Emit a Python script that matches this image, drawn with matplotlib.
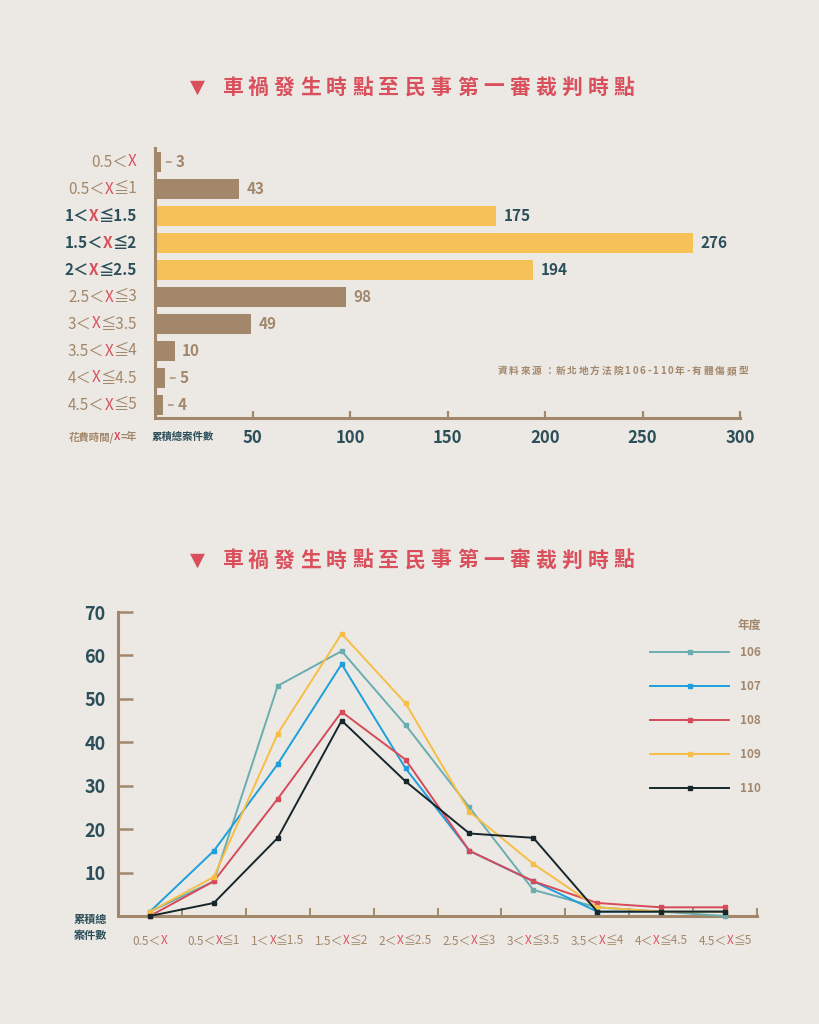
import matplotlib
matplotlib.use("Agg")
import matplotlib.pyplot as plt
from matplotlib.offsetbox import TextArea, HPacker, AnnotationBbox
from matplotlib.lines import Line2D

# ---------------- data ----------------
categories = ["0.5＜X", "0.5＜X≦1", "1＜X≦1.5", "1.5＜X≦2", "2＜X≦2.5",
              "2.5＜X≦3", "3＜X≦3.5", "3.5＜X≦4", "4＜X≦4.5", "4.5＜X≦5"]
totals = [3, 43, 175, 276, 194, 98, 49, 10, 5, 4]
highlight = [False, False, True, True, True, False, False, False, False, False]
bar_ticks = [50, 100, 150, 200, 250, 300]

years = ["106", "107", "108", "109", "110"]
y106 = [1, 8, 53, 61, 44, 25, 6, 2, 1, 0]
y107 = [1, 15, 35, 58, 34, 15, 8, 1, 1, 1]
y108 = [0, 8, 27, 47, 36, 15, 8, 3, 2, 2]
y109 = [1, 9, 42, 65, 49, 24, 12, 2, 1, 1]
y110 = [0, 3, 18, 45, 31, 19, 18, 1, 1, 1]
line_ticks = [10, 20, 30, 40, 50, 60, 70]

title = "車禍發生時點至民事第一審裁判時點"
source = "資料來源：新北地方法院106-110年-有體傷類型"

# ---------------- style ----------------
BG = "#ECE9E5"
BROWN = "#A3876A"
GOLD = "#F6C156"
TEAL = "#2C4F59"
RED = "#D9505C"
FONT = ["Noto Sans CJK TC", "DejaVu Sans"]
series_colors = ["#6AADB0", "#1D9FDB", "#D64B5A", "#F6BE45", "#17262B"]

plt.rcParams["font.family"] = FONT

W, H = 819, 1024
fig = plt.figure(figsize=(W / 100, H / 100), dpi=100, facecolor=BG)


def fx(px):
    return px / W


def fy(py):
    return 1 - py / H


def spaced_title(y_px):
    fig.text(fx(197), fy(y_px), "▼", color=RED, fontsize=14, ha="center",
             va="center", family=["DejaVu Sans"])
    step = (624 - 232) / (len(title) - 1)
    for i, ch in enumerate(title):
        fig.text(fx(232 + step * i), fy(y_px), ch, color=RED, fontsize=15,
                 fontweight="bold", ha="center", va="center")


def multicolor(ax, text, base, xy, xycoords, xybox, align, size, weight):
    parts = []
    pieces = text.split("X")
    for k, p in enumerate(pieces):
        if p:
            parts.append((p, base))
        if k < len(pieces) - 1:
            parts.append(("X", RED))
    children = [TextArea(t, textprops=dict(color=c, fontsize=size,
                                           fontweight=weight, family=FONT))
                for t, c in parts]
    box = HPacker(children=children, align="baseline", pad=0, sep=0)
    ab = AnnotationBbox(box, xy, xycoords=xycoords, xybox=xybox,
                        boxcoords="offset points", box_alignment=align,
                        frameon=False, pad=0, annotation_clip=False)
    ax.add_artist(ab)


# ================= top: bar chart =================
ax1 = fig.add_axes([fx(155), fy(418), fx(740) - fx(155), (418 - 148) / H])
ax1.set_facecolor(BG)
idx = list(range(len(categories)))
colors = [GOLD if h else BROWN for h in highlight]
ax1.barh(idx, totals, height=0.72, color=colors, zorder=2)
ax1.set_xlim(0, 300)
ax1.set_ylim((418 - 162) / 27, (148 - 162) / 27)
for s in ["top", "right"]:
    ax1.spines[s].set_visible(False)
for s in ["left", "bottom"]:
    ax1.spines[s].set_color(BROWN)
    ax1.spines[s].set_linewidth(2.2)
ax1.set_yticks([])
ax1.set_xticks(bar_ticks)
ax1.set_xticklabels([str(t) for t in bar_ticks])
ax1.tick_params(axis="x", direction="in", length=5, width=1.6, color=BROWN,
                labelcolor=TEAL, labelsize=12, pad=8)
for lab in ax1.get_xticklabels():
    lab.set_fontweight("bold")

for i, (cat, v, h) in enumerate(zip(categories, totals, highlight)):
    base = TEAL if h else BROWN
    multicolor(ax1, cat, base, (0, i), ax1.get_yaxis_transform(), (-13, 0),
               (1, 0.5), 11, "bold" if h else "normal")
    vcol = TEAL if h else BROWN
    if v < 8:
        ax1.annotate(str(v), xy=(v, i), xytext=(11, 0),
                     textcoords="offset points", va="center", ha="left",
                     color=vcol, fontsize=11, fontweight="bold",
                     arrowprops=dict(arrowstyle="-", color=BROWN, lw=1,
                                     shrinkA=1.5, shrinkB=4))
    else:
        ax1.annotate(str(v), xy=(v, i), xytext=(5.5, 0),
                     textcoords="offset points", va="center", ha="left",
                     color=vcol, fontsize=11, fontweight="bold")

# bottom-left captions of top chart
multicolor(ax1, "花費時間/X=年", BROWN, (fx(137), fy(437)), "figure fraction",
           (0, 0), (1, 0.5), 7.5, "bold")
fig.text(fx(152), fy(437), "累積總案件數", color=TEAL, fontsize=7.5,
         fontweight="bold", ha="left", va="center")

# source note with letter spacing
renderer = fig.canvas.get_renderer()
widths = []
for ch in source:
    t = fig.text(0, 0, ch, fontsize=7, fontweight="bold")
    widths.append(t.get_window_extent(renderer).width)
    t.remove()
track = 1.8
total_w = sum(widths) + track * (len(source) - 1)
x = 748 - total_w
for ch, w in zip(source, widths):
    fig.text(fx(x), fy(371), ch, fontsize=7, fontweight="bold", color=BROWN,
             ha="left", va="center")
    x += w + track

spaced_title(87)

# ================= bottom: line chart =================
ax2 = fig.add_axes([fx(118), fy(916), fx(757) - fx(118), (916 - 612) / H])
ax2.set_facecolor(BG)
xs = list(range(len(categories)))
for name, ys, c in zip(years, [y106, y107, y108, y109, y110], series_colors):
    ax2.plot(xs, ys, color=c, lw=1.4, marker="s", markersize=3.2,
             label=name, clip_on=False, zorder=3)
ax2.set_xlim(-0.5, 9.5)
ax2.set_ylim(0, 70)
for s in ["top", "right"]:
    ax2.spines[s].set_visible(False)
for s in ["left", "bottom"]:
    ax2.spines[s].set_color(BROWN)
    ax2.spines[s].set_linewidth(2.2)
ax2.set_yticks(line_ticks)
ax2.set_yticklabels([str(t) for t in line_ticks])
ax2.tick_params(axis="y", direction="in", length=11, width=1.8, color=BROWN,
                labelcolor=TEAL, labelsize=13, pad=9)
for lab in ax2.get_yticklabels():
    lab.set_fontweight("bold")
ax2.set_xticks([i + 0.5 for i in range(len(categories))])
ax2.set_xticklabels([])
ax2.tick_params(axis="x", direction="in", length=6, width=1.4, color=BROWN)
for i, cat in enumerate(categories):
    multicolor(ax2, cat, BROWN, (i, 0), ax2.get_xaxis_transform(), (0, -18),
               (0.5, 0.5), 8.5, "normal")

fig.text(fx(90), fy(927.5), "累積總\n案件數", color=TEAL, fontsize=8,
         fontweight="bold", ha="center", va="center", linespacing=1.35)

handles = [Line2D([], [], color=c, lw=1.4, marker="s", markersize=3.2)
           for c in series_colors]
leg = ax2.legend(handles, years, loc="upper left",
                 bbox_to_anchor=(fx(650), fy(619)),
                 bbox_transform=fig.transFigure, frameon=False,
                 title="年度", alignment="right", fontsize=8.5,
                 handlelength=6.7, handletextpad=0.9, labelspacing=1.78,
                 borderpad=0, borderaxespad=0, labelcolor=BROWN)
leg._legend_box.sep = 9.9
leg.get_title().set_color(BROWN)
leg.get_title().set_fontsize(8.5)
leg.get_title().set_fontweight("bold")
for t in leg.get_texts():
    t.set_fontweight("bold")

spaced_title(560)

fig.savefig("out.png", dpi=100, facecolor=BG)
